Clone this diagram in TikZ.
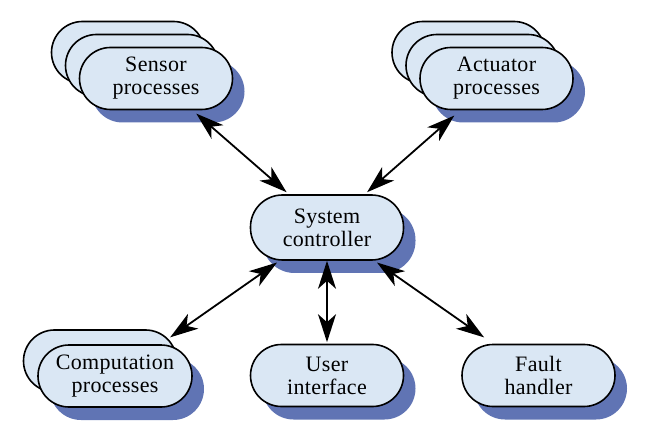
\documentclass[tikz,border=0pt]{standalone}
\usepackage{fontspec}
\setmainfont{Liberation Serif}
\newfontfamily\procfontfam[LetterSpace=1.5]{Liberation Serif}
\usetikzlibrary{arrows.meta,shadows}
\definecolor{boxfill}{RGB}{218,231,244}
\definecolor{shadowc}{RGB}{96,116,180}
\tikzset{
  procbox/.style={draw=black, line width=1.6pt, fill=boxfill, rounded corners=31pt,
    minimum width=153pt, minimum height=62pt, inner sep=0pt, align=center,
    font=\procfontfam\fontsize{22}{23}\selectfont},
  frontbox/.style={procbox, drop shadow={shadow xshift=12pt, shadow yshift=-13pt, fill=shadowc, opacity=1}},
  tipk/.tip={Stealth[length=28pt,width=18pt,inset=8pt]},
  conn/.style={line width=1.8pt, tipk-tipk},
}
\begin{document}
\begin{tikzpicture}[x=1pt,y=-1pt]
\useasboundingbox (0,0) rectangle (653,438);
% Sensor processes
\node[procbox] (sensor3) at (128,52.5) {};
\node[procbox] (sensor2) at (142,65.5) {};
\node[frontbox] (sensor) at (156,78.5) {Sensor\\processes};
% Actuator processes
\node[procbox] (act3) at (468.5,52.5) {};
\node[procbox] (act2) at (482.5,65.5) {};
\node[frontbox] (act) at (496.5,78.5) {Actuator\\processes};
% System controller
\node[frontbox, minimum height=65pt, rounded corners=32pt] (ctrl) at (327,227.5) {System\\controller};
% Computation processes
\node[procbox] (comp2) at (100,361) {};
\node[frontbox, minimum width=154pt] (comp) at (115,376) {Computation\\processes};
% User interface
\node[frontbox] (user) at (327,375.5) {User\\interface};
% Fault handler
\node[frontbox] (fault) at (538.5,375.5) {Fault\\handler};
% Connectors
\draw[conn, shorten <=5pt, shorten >=3pt] (sensor) -- (ctrl);
\draw[conn, shorten <=8pt, shorten >=3pt] (act) -- (ctrl);
\draw[conn, shorten <=12pt, shorten >=3pt] (comp) -- (ctrl);
\draw[conn, shorten <=0pt, shorten >=1.5pt] (ctrl) -- (user);
\draw[conn, shorten <=3pt, shorten >=11pt] (ctrl) -- (fault);
\end{tikzpicture}
\end{document}
